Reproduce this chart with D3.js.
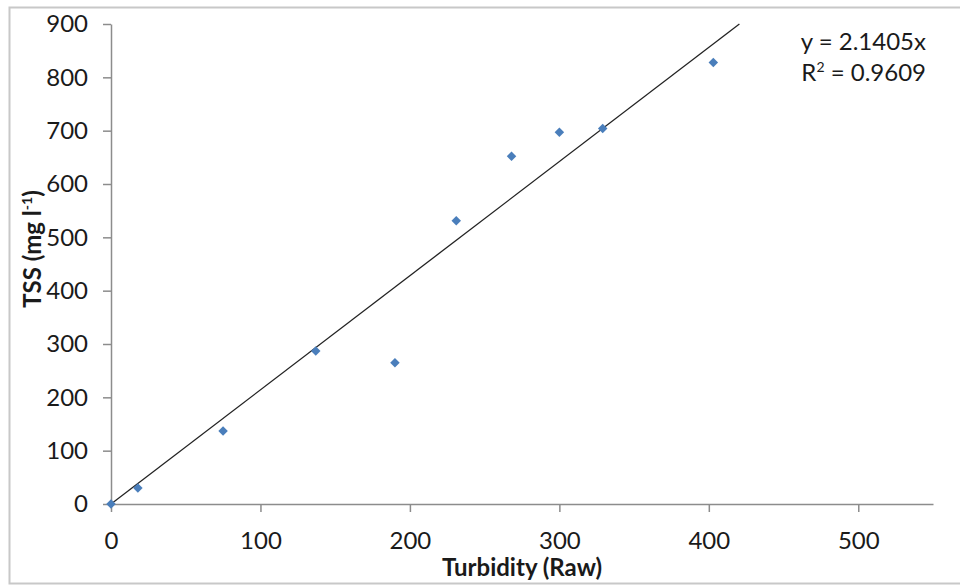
<!DOCTYPE html>
<html><head><meta charset="utf-8">
<script src="https://cdn.jsdelivr.net/npm/d3@7"></script>
<style>
body{margin:0;background:#fff;}
svg{display:block;font-family:Lato, "Noto Sans", sans-serif;}
</style></head>
<body><svg id="c" width="960" height="585"></svg>
<script>
const turbidity = [0, 18, 75, 137, 190, 231, 268, 300, 329, 403];
const tss = [0, 30, 137, 287, 265, 531, 652, 697, 704, 828];
const xTicks = [0, 100, 200, 300, 400, 500];
const yTicks = [0, 100, 200, 300, 400, 500, 600, 700, 800, 900];
const slope = 2.1405;
const eqLabels = ["y = 2.1405x", "R", "2", " = 0.9609"];

const svg = d3.select("#c");
const x = d3.scaleLinear().domain([0, 550]).range([111, 933]);
const y = d3.scaleLinear().domain([0, 900]).range([504, 24]);

// outer border
svg.append("rect").attr("x", 9.5).attr("y", 7.5).attr("width", 970).attr("height", 576)
  .attr("fill", "none").attr("stroke", "#c8c8c8").attr("stroke-width", 2);

const axisColor = "#8c8c8c";
const tickFont = 24;

const xa = svg.append("g").attr("transform", `translate(0,${y(0)})`)
  .call(d3.axisBottom(x).tickValues(xTicks).tickSizeOuter(0).tickSizeInner(8).tickPadding(20));
const ya = svg.append("g").attr("transform", `translate(${x(0)},0)`)
  .call(d3.axisLeft(y).tickValues(yTicks).tickSizeOuter(0).tickSizeInner(8).tickPadding(15));
[xa, ya].forEach(g => {
  g.select(".domain").attr("stroke", axisColor).attr("stroke-width", 1.5);
  g.selectAll(".tick line").attr("stroke", axisColor).attr("stroke-width", 1.5);
  g.selectAll(".tick text").attr("fill", "#1a1a1a").style("font-size", tickFont + "px").style("font-family", "Lato, sans-serif");
});

// trend line
const xEnd = 900 / slope;
svg.append("line").attr("x1", x(0)).attr("y1", y(0)).attr("x2", x(xEnd)).attr("y2", y(slope * xEnd))
  .attr("stroke", "#222").attr("stroke-width", 1.3);

// points
svg.append("g").selectAll("path").data(turbidity).join("path")
  .attr("d", d3.symbol().type(d3.symbolSquare).size(45))
  .attr("transform", (d, i) => `translate(${x(d)},${y(tss[i])}) rotate(45)`)
  .attr("fill", "#4a7ebb");

// equation
const eq = svg.append("text").attr("text-anchor", "end").attr("fill", "#1a1a1a").style("font-size", "24px");
eq.append("tspan").attr("x", 926).attr("y", 50).text(eqLabels[0]);
const r = eq.append("tspan").attr("x", 926).attr("y", 81);
r.append("tspan").text(eqLabels[1]);
r.append("tspan").attr("dy", -9).style("font-size", "14px").text(eqLabels[2]);
r.append("tspan").attr("dy", 9).text(eqLabels[3]);

// axis titles
svg.append("text").attr("x", (x(0) + x(550)) / 2).attr("y", 576).attr("text-anchor", "middle")
  .style("font-size", "24px").style("font-weight", "bold").attr("fill", "#1a1a1a").text("Turbidity (Raw)");
const yt = svg.append("text").attr("transform", "translate(41,249) rotate(-90)").attr("text-anchor", "middle")
  .style("font-size", "24px").style("font-weight", "bold").attr("fill", "#1a1a1a");
yt.append("tspan").text("TSS (mg l");
yt.append("tspan").attr("dy", -9).style("font-size", "14px").text("-1");
yt.append("tspan").attr("dy", 9).text(")");
</script></body></html>
